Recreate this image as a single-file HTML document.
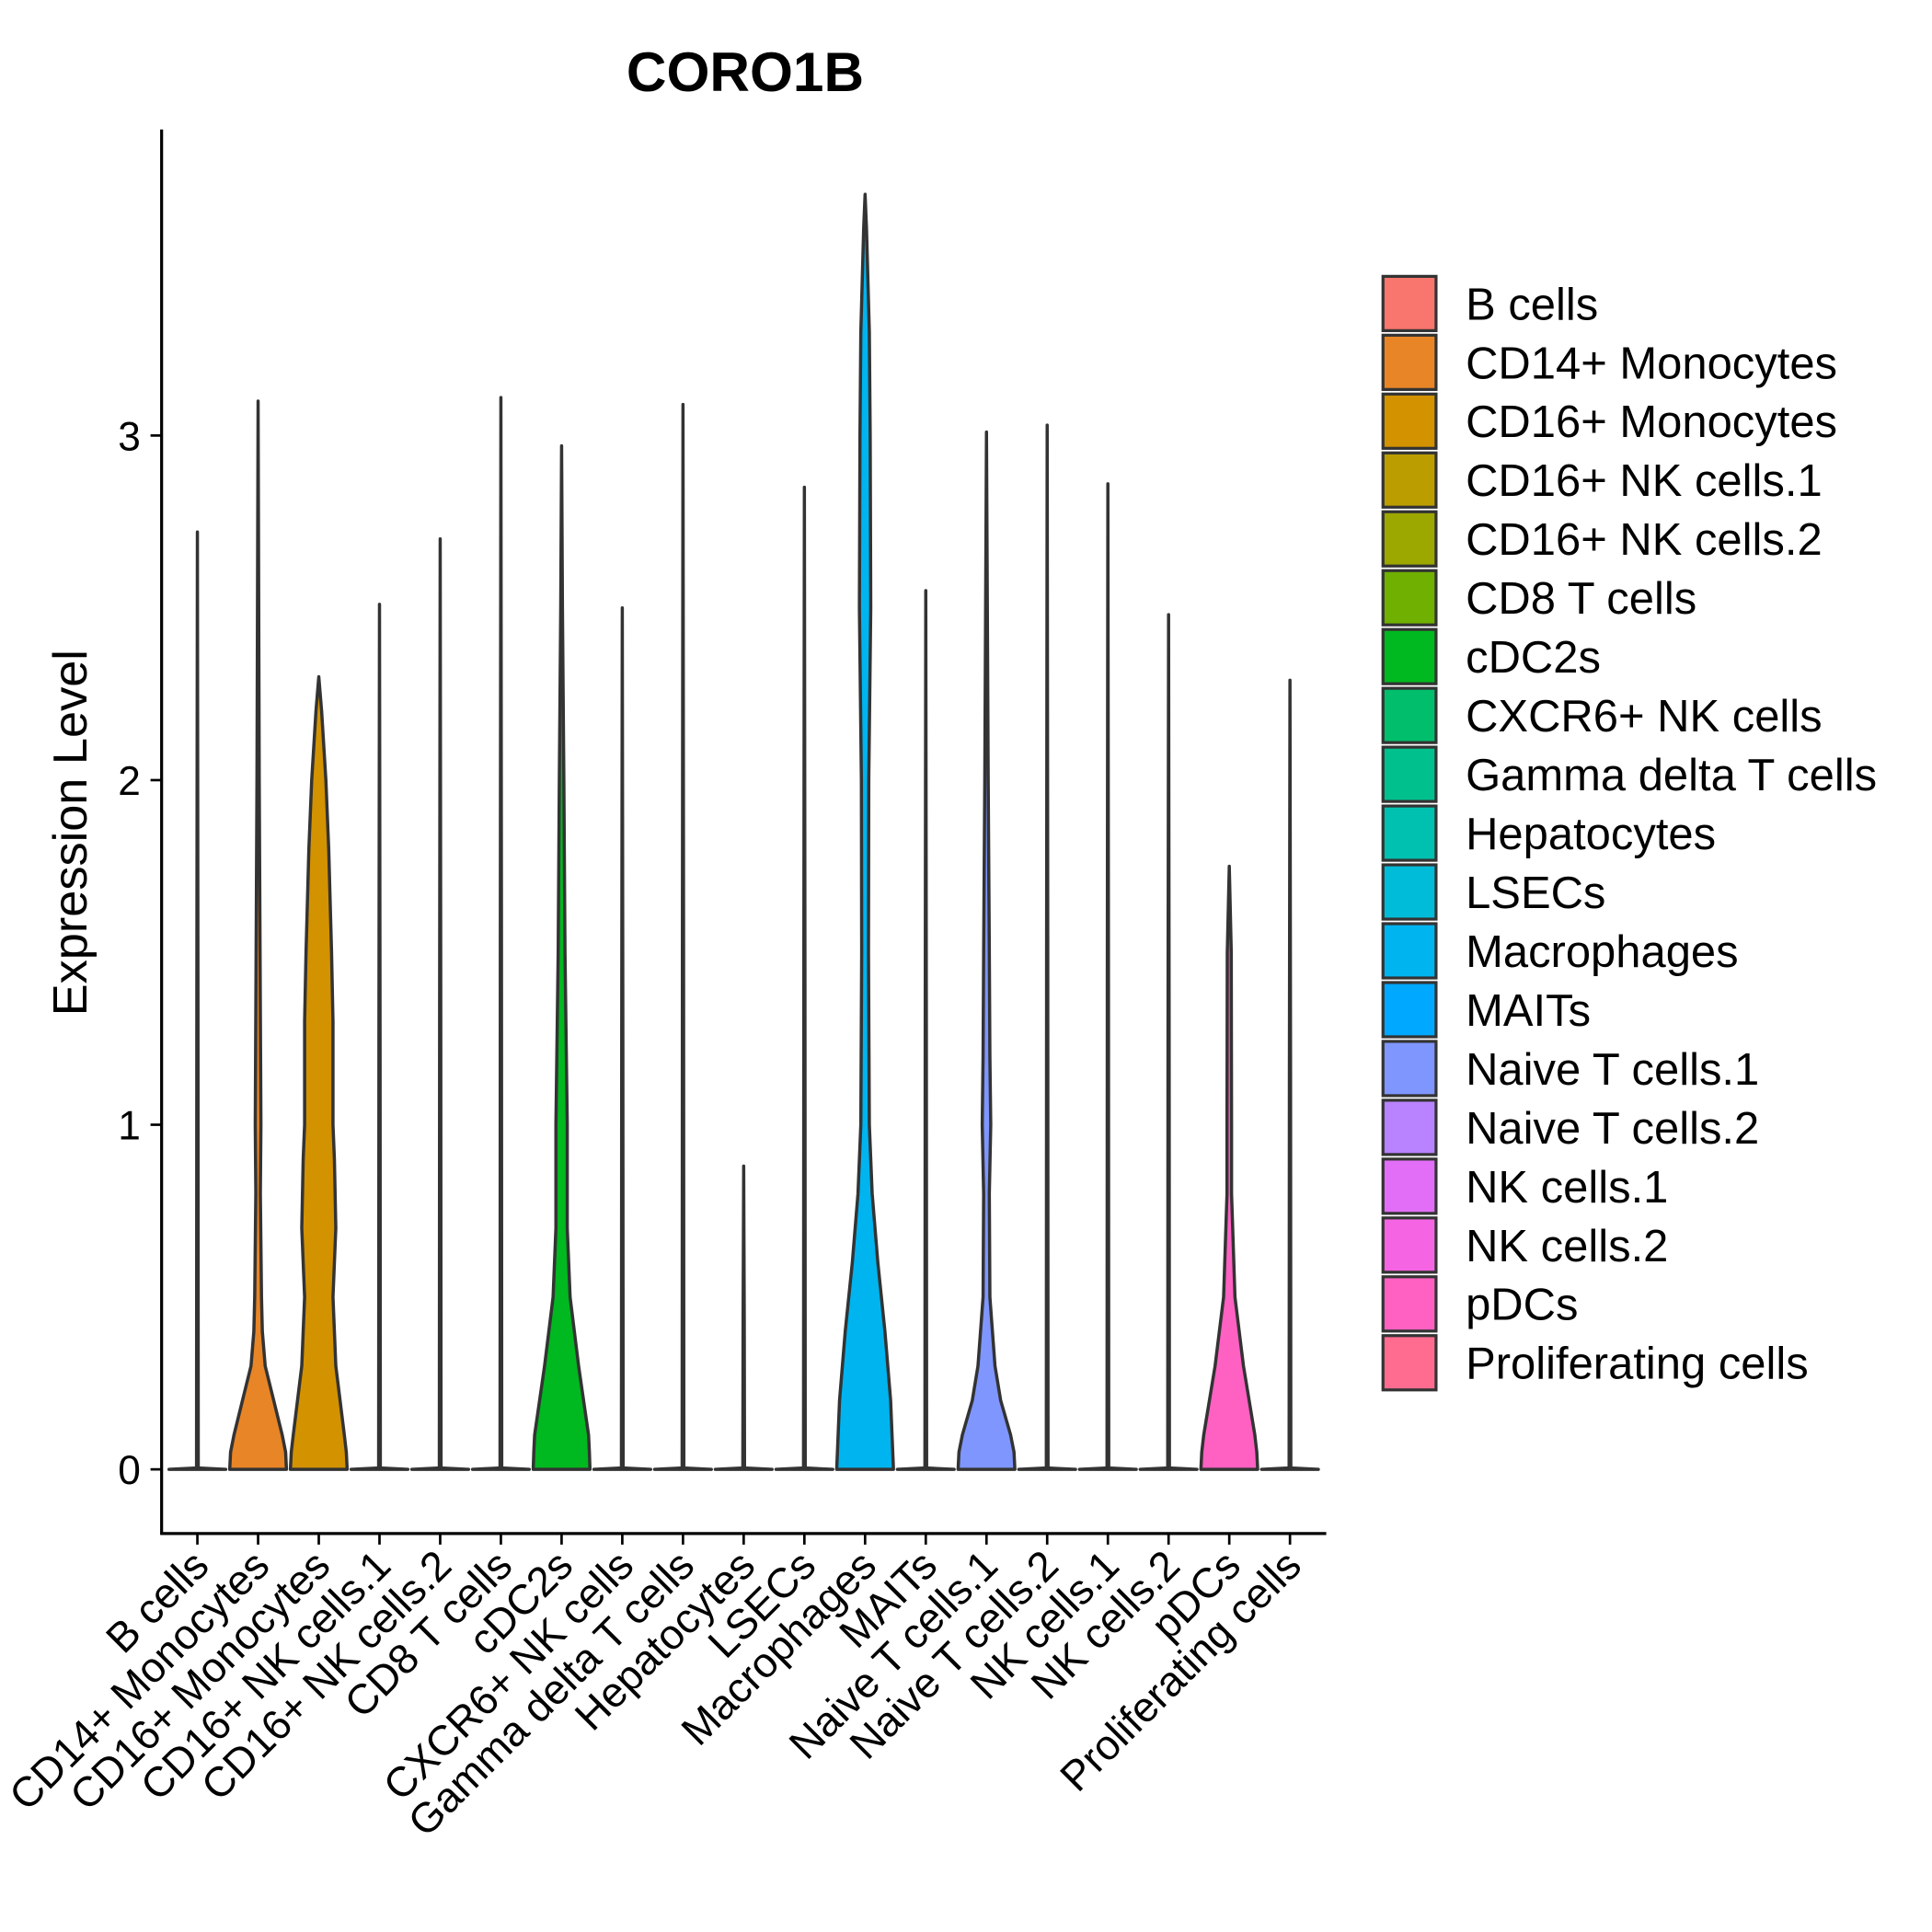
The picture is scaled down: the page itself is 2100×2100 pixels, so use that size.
<!DOCTYPE html>
<html><head><meta charset="utf-8"><style>
html,body{margin:0;padding:0;background:#fff}
svg{display:block;font-family:"Liberation Sans",Arial,sans-serif}
</style></head><body>
<svg id="chart" width="2100" height="2100" viewBox="0 0 1566 1566" xmlns="http://www.w3.org/2000/svg">
<text x="604" y="74" font-size="45" font-weight="bold" text-anchor="middle">CORO1B</text>
<text transform="translate(70,675) rotate(-90)" font-size="39" text-anchor="middle">Expression Level</text>
<g id="plot"></g>
<g id="legend"></g>
</svg>
<script>
const categories=["B cells","CD14+ Monocytes","CD16+ Monocytes","CD16+ NK cells.1","CD16+ NK cells.2","CD8 T cells","cDC2s","CXCR6+ NK cells","Gamma delta T cells","Hepatocytes","LSECs","Macrophages","MAITs","Naive T cells.1","Naive T cells.2","NK cells.1","NK cells.2","pDCs","Proliferating cells"];
const colors=["#F8766D","#E88526","#D39200","#BC9D00","#9CA700","#6FB000","#00B81F","#00BE6C","#00C08E","#00C0AF","#00BCD8","#00B4EF","#00A8FF","#7F96FF","#B983FF","#E26EF7","#F564E3","#FF61C3","#FF6C90"];
const maxValues=[2.72,3.10,2.30,2.51,2.70,3.11,2.97,2.50,3.09,0.88,2.85,3.70,2.55,3.01,3.03,2.86,2.48,1.75,2.29];
const profiles={
 "CD14+ Monocytes":[[0,1],[0.05,0.97],[0.1,0.85],[0.2,0.55],[0.3,0.25],[0.4,0.15],[0.5,0.12],[0.8,0.08],[1.0,0.1],[1.5,0.07],[2.0,0.04],[3.1,0]],
 "CD16+ Monocytes":[[0,1],[0.05,0.97],[0.1,0.9],[0.3,0.6],[0.5,0.5],[0.7,0.6],[0.9,0.55],[1.0,0.5],[1.3,0.5],[1.5,0.45],[1.8,0.35],[2.0,0.25],[2.2,0.1],[2.3,0]],
 "cDC2s":[[0,1],[0.05,0.98],[0.1,0.95],[0.3,0.6],[0.5,0.3],[0.7,0.2],[1.0,0.2],[1.5,0.12],[2.0,0.08],[2.5,0.03],[2.97,0]],
 "Macrophages":[[0,1],[0.2,0.9],[0.4,0.7],[0.6,0.45],[0.8,0.25],[1.0,0.15],[1.5,0.12],[2.0,0.13],[2.5,0.2],[3.0,0.18],[3.3,0.15],[3.6,0.05],[3.7,0]],
 "Naive T cells.1":[[0,1],[0.05,0.97],[0.1,0.85],[0.2,0.5],[0.3,0.3],[0.5,0.12],[0.8,0.1],[1.0,0.15],[1.2,0.12],[1.5,0.1],[2.0,0.06],[3.01,0]],
 "pDCs":[[0,1],[0.05,0.97],[0.1,0.9],[0.3,0.5],[0.5,0.2],[0.8,0.08],[1.0,0.08],[1.5,0.07],[1.75,0]]
};
const yTicks=[0,1,2,3];
const ns="http://www.w3.org/2000/svg";
const X0=131,X1=1075,YT=105,YB=1243;
function xScale(i){return 160+i*49.2;}
function yScale(v){return 1191-v*279.33;}
const HALF=23;
const plot=document.getElementById('plot');
function mk(tag,attrs,parent){const e=document.createElementNS(ns,tag);for(const k in attrs)e.setAttribute(k,attrs[k]);parent.appendChild(e);return e;}
categories.forEach((c,i)=>{
  const prof=profiles[c]||[[0,1],[0.004,0.03],[maxValues[i]*0.5,0.02],[maxValues[i],0]];
  const cx=xScale(i);
  let r=[],l=[];
  prof.forEach(p=>{r.push((cx+p[1]*HALF).toFixed(2)+","+yScale(p[0]).toFixed(2));});
  for(let k=prof.length-1;k>=0;k--){l.push((cx-prof[k][1]*HALF).toFixed(2)+","+yScale(prof[k][0]).toFixed(2));}
  const pts=r.concat(l);
  const p=mk('polygon',{points:pts.join(" "),fill:colors[i],stroke:"#333",'stroke-width':2.6,'stroke-linejoin':'round'},plot);
  
  
  const t=mk('line',{x1:cx,x2:cx,y1:YB,y2:YB+9,stroke:"#000",'stroke-width':2},plot);
  
  
  const lb=mk('text',{transform:`translate(${cx+11},${YB+28}) rotate(-45)`,'font-size':34,'text-anchor':'end'},plot);
  
  
  lb.textContent=c;
});
yTicks.forEach(v=>{
  const y=yScale(v);
  const t=mk('line',{x1:X0-9,x2:X0,y1:y,y2:y,stroke:"#000",'stroke-width':2},plot);
  
  
  const lb=mk('text',{x:X0-17,y:y+12,'font-size':33,'text-anchor':'end'},plot);
  
  
  lb.textContent=v;
});
const ya=mk('line',{x1:X0,x2:X0,y1:YT,y2:YB+1,stroke:"#000",'stroke-width':2.4},plot);


const xa=mk('line',{x1:X0-1,x2:X1,y1:YB,y2:YB,stroke:"#000",'stroke-width':2.4},plot);


const leg=document.getElementById('legend');
categories.forEach((c,i)=>{
  const y=224+i*47.7;
  const r=mk('rect',{x:1121,y:y,width:43,height:44,fill:colors[i],stroke:"#333",'stroke-width':2.4},leg);
  
  
  const t=mk('text',{x:1188,y:y+35,'font-size':36.5},leg);
  
  
  t.textContent=c;
});
</script>
</body></html>
